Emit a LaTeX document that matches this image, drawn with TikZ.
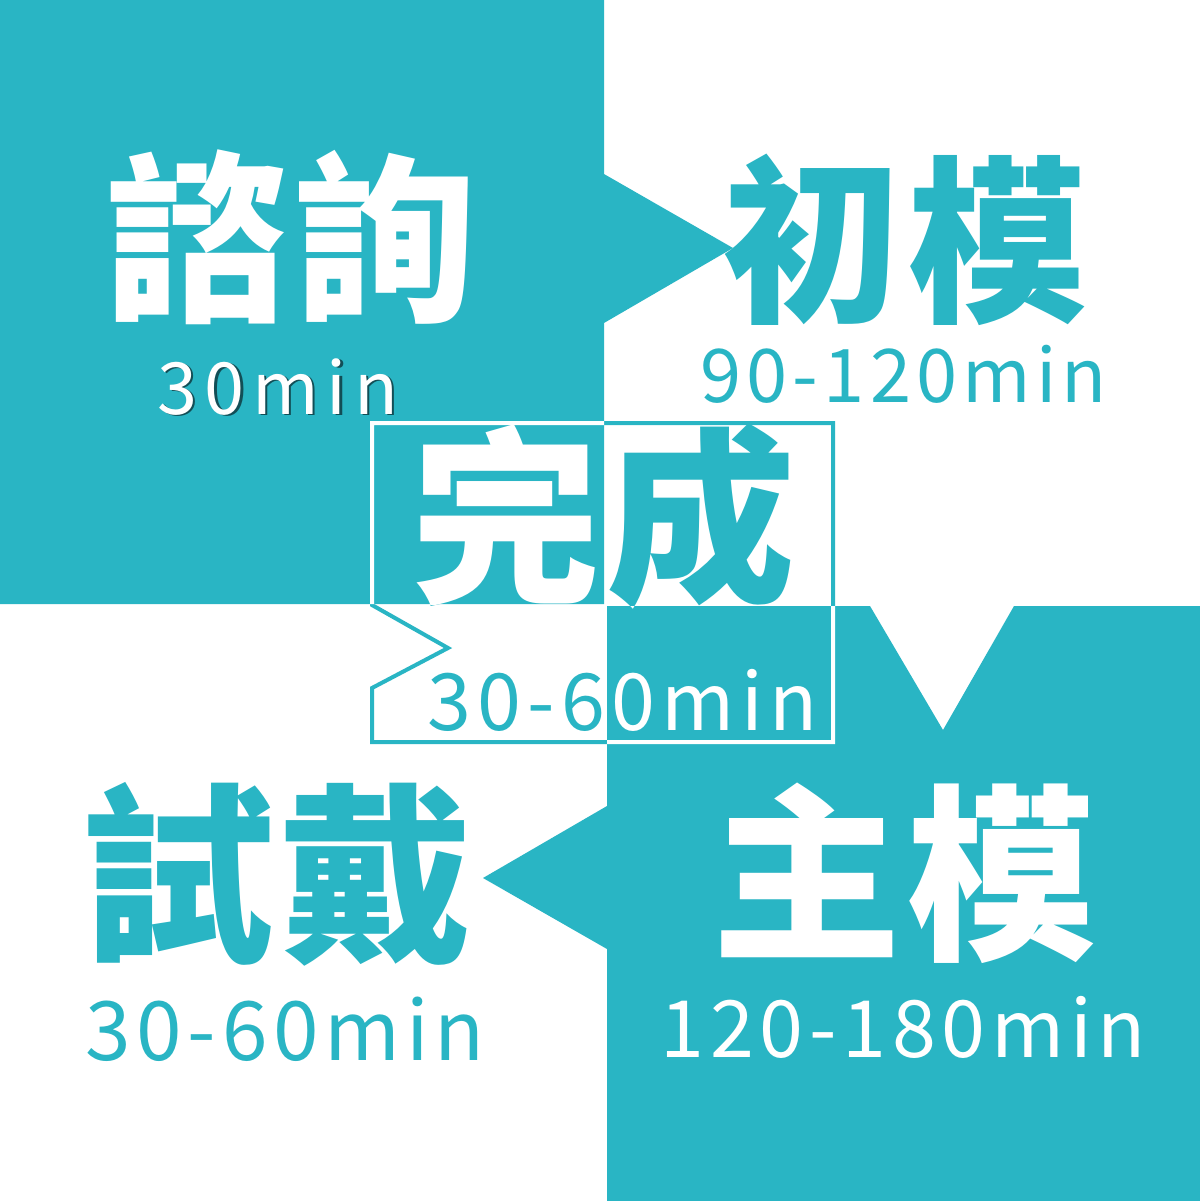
\documentclass[tikz,border=0pt]{standalone}
\usepackage{fontspec}
\usepackage{tikz}
\newfontfamily\cjk{Noto Sans CJK TC}
\definecolor{aqua}{RGB}{41,181,196}
\definecolor{aquashade}{RGB}{18,78,86}
\newcommand\sz[1]{\fontsize{#1}{#1}\selectfont}
\tikzstyle{stage} = [inner sep=0pt, anchor=base]
\tikzstyle{duration} = [inner sep=0pt, anchor=base west]
\tikzstyle{frame} = [line width=2pt, line join=miter]
\tikzset{teal zones/.style={insert path={
  (0,0) -- (604,0) -- (604,174) -- (733,248) -- (604,323) -- (604,604) -- (0,604) -- cycle
  (607,606) -- (870,606) -- (943,730) -- (1014,606) -- (1200,606) -- (1200,1201)
  -- (607,1201) -- (607,949) -- (483,878) -- (607,806) -- cycle}}}
% the framed "done" block, drawn once per colour
\newcommand\doneblock[2]{%
  \draw [frame, draw=#1] (372,423) -- (833,423) -- (833,742) -- (372,742) -- (372,688) -- (448,648) -- (372,605) -- cycle;
  \node (done#2) [stage, text=#1, font=\cjk\bfseries\sz{94.5pt}] at (603.5,588) {完\kern3pt成};
  \node (donetime#2) [duration, text=#1, font=\cjk\addfontfeature{LetterSpace=8}\sz{39.5pt}] at (427,730) {30-60min};
}

\begin{document}
\begin{tikzpicture}[x=0.5pt, y=-0.5pt]
\useasboundingbox (0,0) rectangle (1200,1201);
\fill [white] (0,0) rectangle (1200,1201);

% Blocks
\path [fill=aqua, teal zones];

% Nodes
\node (consult) [stage, text=white, font=\cjk\bfseries\sz{91pt}] at (291,307) {諮\kern3pt詢};
\node (consulttimeshade) [duration, text=aquashade, font=\cjk\addfontfeature{LetterSpace=10.5}\sz{36pt}] at (159.5,415.5) {30min};
\node (consulttime) [duration, text=white, font=\cjk\addfontfeature{LetterSpace=10.5}\sz{36pt}] at (157,414) {30min};
\node (draft) [stage, text=aqua, font=\cjk\bfseries\sz{89.5pt}] at (904.5,308) {初\kern3pt模};
\node (drafttime) [duration, text=aqua, font=\cjk\addfontfeature{LetterSpace=7}\sz{37pt}] at (700,402) {90-120min};
\node (fitting) [stage, text=aqua, font=\cjk\bfseries\sz{96pt}] at (278,947) {試\kern3pt戴};
\node (fittingtime) [duration, text=aqua, font=\cjk\addfontfeature{LetterSpace=7}\sz{41pt}] at (85,1060) {30-60min};
\node (master) [stage, text=white, font=\cjk\bfseries\sz{94.5pt}] at (904,945) {主\kern3pt模};
\node (mastertime) [duration, text=white, font=\cjk\addfontfeature{LetterSpace=7.3}\sz{39.5pt}] at (660,1057) {120-180min};

% Done block: aqua on white, white on aqua
\doneblock{aqua}{}
\begin{scope}
  \path [clip, teal zones];
  \doneblock{white}{w}
\end{scope}

\end{tikzpicture}
\end{document}
